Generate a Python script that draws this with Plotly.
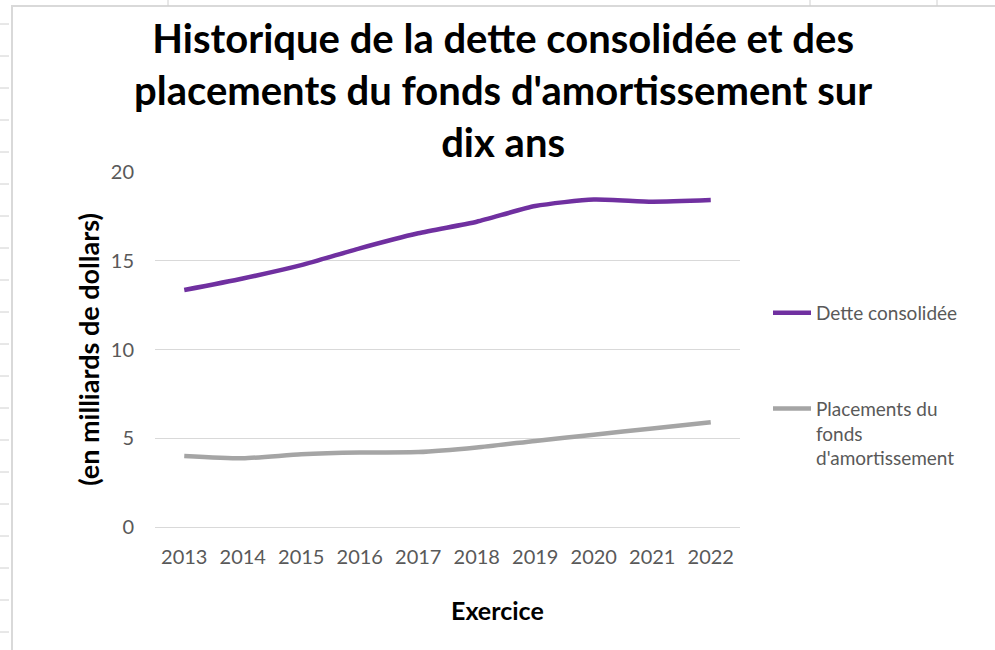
"""
Historique de la dette consolidée et des placements du fonds d'amortissement
"""

import plotly.graph_objects as go

# Data
annees = ["2013", "2014", "2015", "2016", "2017", "2018", "2019", "2020", "2021", "2022"]
dette_consolidee = [13.35, 14.0, 14.75, 15.7, 16.55, 17.2, 18.08, 18.45, 18.33, 18.42]
placements_fonds = [4.0, 3.87, 4.1, 4.2, 4.22, 4.48, 4.85, 5.2, 5.55, 5.9]

y_ticks = [0, 5, 10, 15, 20]

W, H = 995, 650
L, R, T, B = 155, 255, 172, 123
PW, PH = W - L - R, H - T - B


def px(x):
    return (x - L) / PW


def py(y):
    return (H - B - y) / PH


fig = go.Figure()

fig.add_trace(go.Scatter(
    x=annees,
    y=dette_consolidee,
    mode="lines",
    name="Dette consolidée",
    line=dict(color="#7030A0", width=4.5, shape="spline", smoothing=0.6),
    legendgroup="a",
))

fig.add_trace(go.Scatter(
    x=annees,
    y=placements_fonds,
    mode="lines",
    name="Placements du<br>fonds<br>d'amortissement",
    line=dict(color="#A5A5A5", width=4.5, shape="spline", smoothing=0.6),
    legendgroup="b",
))

# Excel-like frame and sheet grid marks
shapes = [dict(
    type="rect", xref="paper", yref="paper",
    x0=px(12), x1=px(1010), y0=py(6), y1=py(700),
    line=dict(color="#D9D9D9", width=2), layer="below",
)]
for yy in range(24, 650, 32):
    shapes.append(dict(
        type="line", xref="paper", yref="paper",
        x0=px(0), x1=px(9), y0=py(yy), y1=py(yy),
        line=dict(color="#D0D0D0", width=1),
    ))
for xx in [168, 810, 937]:
    shapes.append(dict(
        type="line", xref="paper", yref="paper",
        x0=px(xx), x1=px(xx), y0=py(0), y1=py(6),
        line=dict(color="#D0D0D0", width=1),
    ))

annotations = [
    # chart title
    dict(
        text="Historique de la dette consolidée et des<br>placements du fonds d'amortissement sur<br>dix ans",
        xref="paper", yref="paper",
        x=px(503), y=py(12), xanchor="center", yanchor="top",
        showarrow=False,
        font=dict(family="Lato, sans-serif", size=40, color="black", weight="bold"),
    ),
    # x axis title (Excel places it off-centre)
    dict(
        text="Exercice",
        xref="paper", yref="paper",
        x=px(497), y=py(610), xanchor="center", yanchor="middle",
        showarrow=False,
        font=dict(family="Lato, sans-serif", size=25, color="black", weight="bold"),
    ),
]

fig.update_layout(
    width=W,
    height=H,
    margin=dict(l=L, r=R, t=T, b=B, autoexpand=False),
    paper_bgcolor="white",
    plot_bgcolor="white",
    font=dict(family="Lato, sans-serif", color="#595959", size=20),
    showlegend=True,
    xaxis=dict(
        type="category",
        range=[-0.5, 9.5],
        showgrid=False,
        showline=False,
        ticks="",
        automargin=False,
        ticklabelstandoff=16,
    ),
    yaxis=dict(
        range=[0, 20],
        tickvals=y_ticks,
        showgrid=True,
        gridcolor="#D9D9D9",
        gridwidth=1,
        zeroline=True,
        zerolinecolor="#D9D9D9",
        zerolinewidth=1,
        automargin=False,
        ticklabelstandoff=20,
        title=dict(text="(en milliards de dollars)", standoff=3,
                   font=dict(size=27, color="black", weight="bold")),
    ),
    legend=dict(
        x=px(768), xanchor="left",
        y=py(294), yanchor="top",
        valign="top",
        itemwidth=38,
        tracegroupgap=68,
        font=dict(size=19, color="#595959"),
    ),
    shapes=shapes,
    annotations=annotations,
)

# drop the default page margin so the figure sits at the window origin
fig.write_html(
    "out.html",
    config={"displayModeBar": False},
    post_script="document.body.style.margin='0';",
)
